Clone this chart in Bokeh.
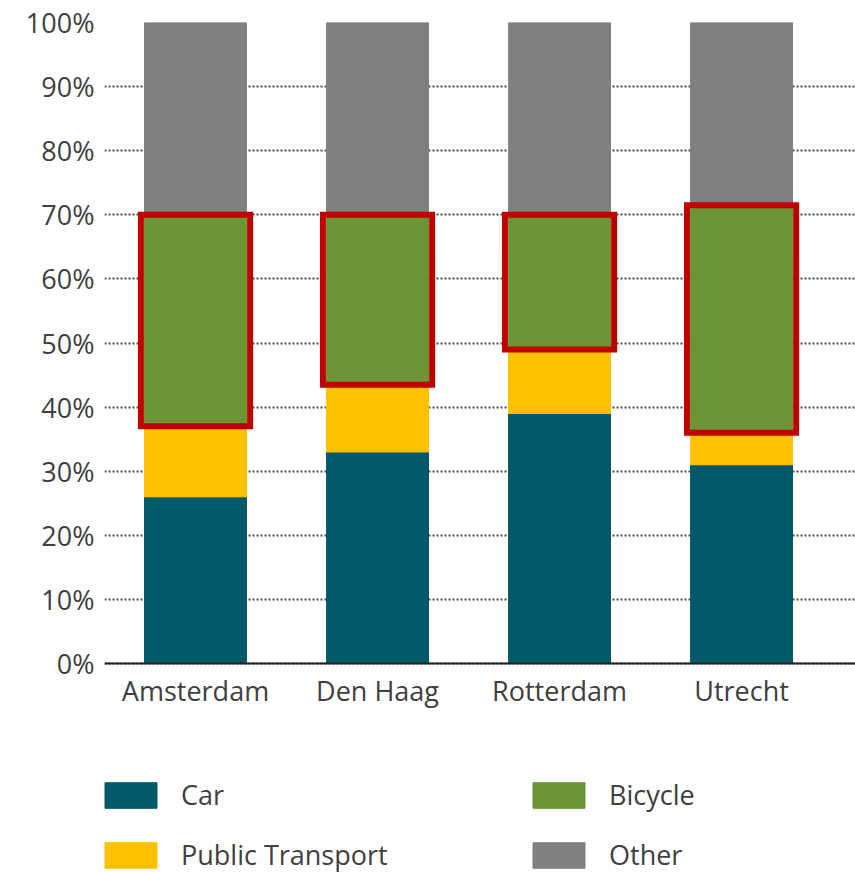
import numpy as np
from bokeh.plotting import figure
from bokeh.models import (Range1d, FixedTicker, Legend, LegendItem,
                          PrintfTickFormatter, ColumnDataSource)
from bokeh.embed import file_html
from bokeh.resources import INLINE

cities = ["Amsterdam", "Den Haag", "Rotterdam", "Utrecht"]
car = [26, 33, 39, 31]
public_transport = [11, 10.5, 10, 5]
bicycle = [33, 26.5, 21, 35.5]
other = [30, 30, 30, 28.5]
y_ticks = [0, 10, 20, 30, 40, 50, 60, 70, 80, 90, 100]

colors = ["#03596A", "#FFC000", "#6B9534", "#808080"]
labels = ["Car", "Public Transport", "Bicycle", "Other"]
FONT = "Open Sans"

# layout (pixels)
W, H = 855, 873
TOP, LEFT = 22, 104
ZERO_Y = 663                      # pixel row of the 0% baseline
px_per_unit = (ZERO_Y - TOP) / 100.0
y_start = -(H - ZERO_Y) / px_per_unit

x = np.arange(len(cities))
src = ColumnDataSource(dict(x=x, car=car, pt=public_transport,
                            bicycle=bicycle, other=other))

p = figure(width=W, height=H, x_range=Range1d(-0.5, 3.626),
           y_range=Range1d(y_start, 100), output_backend="svg",
           toolbar_location=None, min_border_left=LEFT, min_border_right=0,
           min_border_top=TOP, min_border_bottom=0)

rs = p.vbar_stack(["car", "pt", "bicycle", "other"], x="x", width=0.56,
                  color=colors, source=src)

# red highlight boxes around the bicycle segments
bottom = np.array(car) + np.array(public_transport)
top = bottom + np.array(bicycle)
p.quad(left=x - 0.3, right=x + 0.3, bottom=bottom, top=top,
       fill_color=None, line_color="#C00000", line_width=6,
       line_join="miter")

p.outline_line_color = None
p.xgrid.visible = False
p.ygrid.ticker = FixedTicker(ticks=y_ticks)
p.ygrid.grid_line_color = "#4a4a4a"
p.ygrid.grid_line_dash = "2 2"
p.ygrid.grid_line_width = 2

p.yaxis.ticker = FixedTicker(ticks=y_ticks)
p.yaxis.formatter = PrintfTickFormatter(format="%d%%")
p.yaxis.axis_line_color = None
p.yaxis.major_tick_line_color = None
p.yaxis.minor_tick_line_color = None
p.yaxis.major_label_text_font = FONT
p.yaxis.major_label_text_font_size = "27px"
p.yaxis.major_label_text_color = "#404040"
p.yaxis.major_label_standoff = 4

p.xaxis.fixed_location = 0
p.xaxis.ticker = FixedTicker(ticks=list(x))
p.xaxis.major_label_overrides = {int(i): c for i, c in zip(x, cities)}
p.xaxis.axis_line_color = "#222222"
p.xaxis.axis_line_width = 2
p.xaxis.major_tick_line_color = None
p.xaxis.minor_tick_line_color = None
p.xaxis.major_label_text_font = FONT
p.xaxis.major_label_text_font_size = "27px"
p.xaxis.major_label_text_color = "#404040"
p.xaxis.major_label_standoff = 2

items = [LegendItem(label=l, renderers=[r]) for l, r in zip(labels, rs)]
legend = Legend(items=items, location=(-6, 0), orientation="vertical",
                ncols=2, glyph_width=65, glyph_height=32, label_height=32,
                label_standoff=18, label_width=322, spacing=23,
                padding=0, margin=0, border_line_alpha=0,
                background_fill_alpha=0, label_text_font=FONT,
                label_text_font_size="27px", label_text_color="#404040")
p.add_layout(legend, "center")

open("out.html", "w").write(file_html(p, INLINE))
